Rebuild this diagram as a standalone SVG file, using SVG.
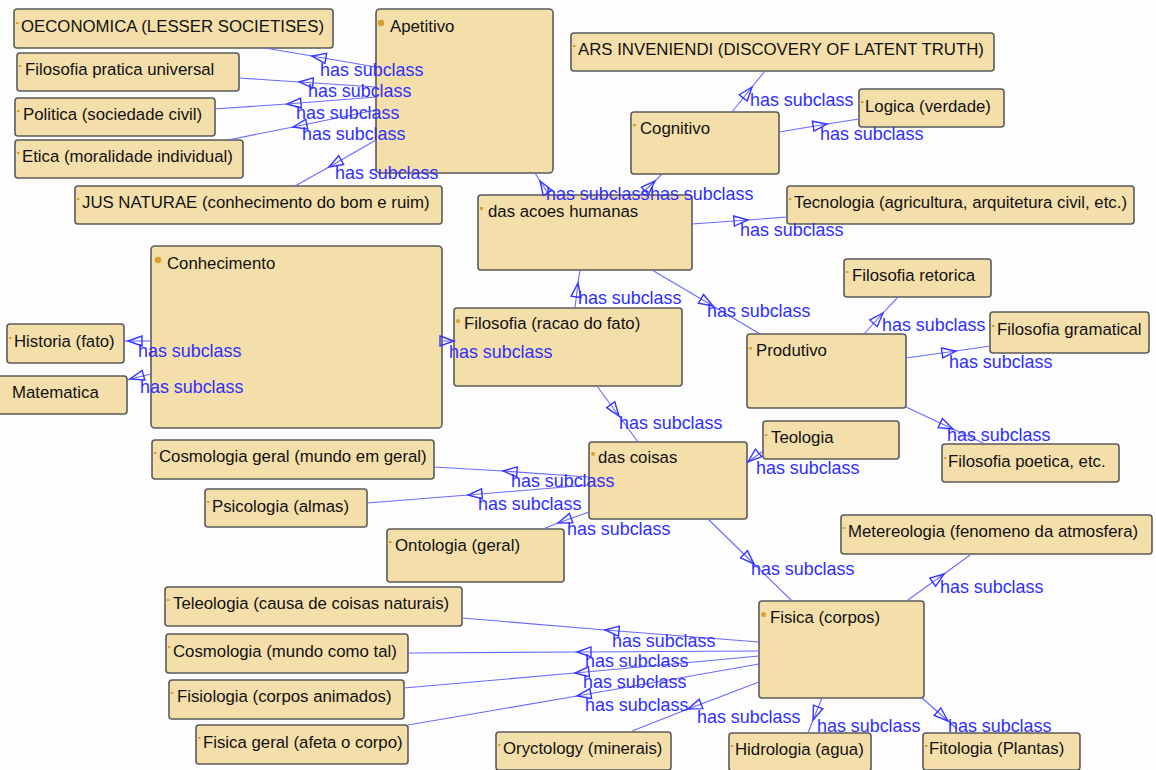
<svg xmlns="http://www.w3.org/2000/svg" width="1156" height="770" viewBox="0 0 1156 770">
<style>
.n rect.b{fill:#f4dfab;stroke:#5a5a5a;stroke-width:1.6}
.n text{font-family:"Liberation Sans",Arial,sans-serif;font-size:16.8px;fill:#111}
.n .m{fill:#d9a030}
.e path{fill:none;stroke:#6a6aff;stroke-width:1.1;marker-mid:url(#tri)}
.e text{font-family:"Liberation Sans",Arial,sans-serif;font-size:17.9px;fill:#2f2fff}
</style>
<defs>
<marker id="tri" viewBox="0 0 16 12" refX="15" refY="6" markerWidth="16" markerHeight="12" markerUnits="userSpaceOnUse" orient="auto" overflow="visible">
<path d="M1,1 L15,6 L1,11 Z" fill="none" stroke="#3535ff" stroke-width="1.4"/>
</marker>
</defs>
<rect width="1156" height="770" fill="#fdfdfd"/>
<g id="nodes">
<g id="n-oeconomica" class="n"><rect class="b" x="14" y="9" width="319" height="39" rx="3"/><rect class="m" x="16" y="22" width="2.5" height="2"/><text x="21" y="32">OECONOMICA (LESSER SOCIETISES)</text></g>
<g id="n-filpratica" class="n"><rect class="b" x="17" y="53" width="222" height="38" rx="3"/><rect class="m" x="19" y="65" width="2.5" height="2"/><text x="25" y="75">Filosofia pratica universal</text></g>
<g id="n-politica" class="n"><rect class="b" x="15" y="98" width="200" height="38" rx="3"/><rect class="m" x="17" y="110" width="2.5" height="2"/><text x="23" y="120">Politica (sociedade civil)</text></g>
<g id="n-etica" class="n"><rect class="b" x="15" y="140" width="228" height="38" rx="3"/><rect class="m" x="17" y="152" width="2.5" height="2"/><text x="22" y="162">Etica (moralidade individual)</text></g>
<g id="n-jus" class="n"><rect class="b" x="75" y="186" width="367" height="38" rx="3"/><rect class="m" x="77" y="198" width="2.5" height="2"/><text x="82" y="208">JUS NATURAE (conhecimento do bom e ruim)</text></g>
<g id="n-apetitivo" class="n"><rect class="b" x="376" y="9" width="177" height="164" rx="4"/><circle class="m" cx="381" cy="23" r="3.3"/><text x="390" y="32">Apetitivo</text></g>
<g id="n-ars" class="n"><rect class="b" x="571" y="33" width="423" height="38" rx="3"/><rect class="m" x="573" y="45" width="2.5" height="2"/><text x="578" y="55">ARS INVENIENDI (DISCOVERY OF LATENT TRUTH)</text></g>
<g id="n-cognitivo" class="n"><rect class="b" x="631" y="112" width="148" height="62" rx="3"/><rect class="m" x="633" y="124" width="3" height="2.5"/><text x="640" y="134">Cognitivo</text></g>
<g id="n-logica" class="n"><rect class="b" x="859" y="89" width="145" height="38" rx="3"/><rect class="m" x="861" y="101" width="2.5" height="2"/><text x="865" y="112">Logica (verdade)</text></g>
<g id="n-dasacoes" class="n"><rect class="b" x="478" y="195" width="214" height="75" rx="3"/><rect class="m" x="480" y="207" width="3" height="3"/><text x="488" y="217">das acoes humanas</text></g>
<g id="n-tecnologia" class="n"><rect class="b" x="787" y="186" width="347" height="38" rx="3"/><rect class="m" x="789" y="198" width="2.5" height="2"/><text x="794" y="208">Tecnologia (agricultura, arquitetura civil, etc.)</text></g>
<g id="n-conhecimento" class="n"><rect class="b" x="151" y="246" width="291" height="182" rx="4"/><circle class="m" cx="158" cy="260" r="3.3"/><text x="167" y="269">Conhecimento</text></g>
<g id="n-historia" class="n"><rect class="b" x="7" y="324" width="117" height="39" rx="3"/><rect class="m" x="9" y="337" width="2.5" height="2"/><text x="14" y="347">Historia (fato)</text></g>
<g id="n-matematica" class="n"><rect class="b" x="-3" y="376" width="130" height="38" rx="3"/><text x="12" y="398">Matematica</text></g>
<g id="n-filracao" class="n"><rect class="b" x="454" y="308" width="228" height="78" rx="3"/><circle class="m" cx="458" cy="321" r="2"/><text x="464" y="329">Filosofia (racao do fato)</text></g>
<g id="n-produtivo" class="n"><rect class="b" x="747" y="334" width="159" height="74" rx="3"/><rect class="m" x="749" y="347" width="3" height="2.5"/><text x="756" y="356">Produtivo</text></g>
<g id="n-retorica" class="n"><rect class="b" x="844" y="259" width="147" height="38" rx="3"/><rect class="m" x="846" y="271" width="2.5" height="2"/><text x="852" y="281">Filosofia retorica</text></g>
<g id="n-gramatical" class="n"><rect class="b" x="990" y="312" width="159" height="41" rx="3"/><rect class="m" x="992" y="325" width="2.5" height="2"/><text x="997" y="335">Filosofia gramatical</text></g>
<g id="n-poetica" class="n"><rect class="b" x="942" y="444" width="177" height="38" rx="3"/><rect class="m" x="944" y="457" width="2.5" height="2"/><text x="948" y="467">Filosofia poetica, etc.</text></g>
<g id="n-teologia" class="n"><rect class="b" x="763" y="421" width="136" height="38" rx="3"/><rect class="m" x="765" y="434" width="2.5" height="2"/><text x="771" y="443">Teologia</text></g>
<g id="n-dascoisas" class="n"><rect class="b" x="589" y="442" width="158" height="77" rx="3"/><circle class="m" cx="593" cy="454" r="2"/><text x="598" y="463">das coisas</text></g>
<g id="n-cosmogeral" class="n"><rect class="b" x="152" y="440" width="282" height="39" rx="3"/><rect class="m" x="154" y="452" width="2.5" height="2"/><text x="159" y="462">Cosmologia geral (mundo em geral)</text></g>
<g id="n-psicologia" class="n"><rect class="b" x="205" y="489" width="162" height="38" rx="3"/><rect class="m" x="207" y="501" width="2.5" height="2"/><text x="212" y="512">Psicologia (almas)</text></g>
<g id="n-ontologia" class="n"><rect class="b" x="387" y="529" width="177" height="53" rx="3"/><rect class="m" x="389" y="541" width="2.5" height="2"/><text x="395" y="551">Ontologia (geral)</text></g>
<g id="n-metereologia" class="n"><rect class="b" x="841" y="515" width="311" height="39" rx="3"/><rect class="m" x="843" y="527" width="2.5" height="2"/><text x="848" y="537">Metereologia (fenomeno da atmosfera)</text></g>
<g id="n-teleologia" class="n"><rect class="b" x="165" y="587" width="297" height="39" rx="3"/><rect class="m" x="167" y="599" width="2.5" height="2"/><text x="173" y="609">Teleologia (causa de coisas naturais)</text></g>
<g id="n-cosmomundo" class="n"><rect class="b" x="166" y="634" width="242" height="39" rx="3"/><rect class="m" x="168" y="646" width="2.5" height="2"/><text x="173" y="657">Cosmologia (mundo como tal)</text></g>
<g id="n-fisiologia" class="n"><rect class="b" x="169" y="680" width="235" height="39" rx="3"/><rect class="m" x="171" y="692" width="2.5" height="2"/><text x="177" y="702">Fisiologia (corpos animados)</text></g>
<g id="n-fisicageral" class="n"><rect class="b" x="196" y="725" width="212" height="39" rx="3"/><rect class="m" x="198" y="737" width="2.5" height="2"/><text x="203" y="748">Fisica geral (afeta o corpo)</text></g>
<g id="n-oryctology" class="n"><rect class="b" x="496" y="732" width="175" height="38" rx="3"/><rect class="m" x="498" y="744" width="2.5" height="2"/><text x="503" y="754">Oryctology (minerais)</text></g>
<g id="n-fisica" class="n"><rect class="b" x="759" y="601" width="165" height="97" rx="3"/><circle class="m" cx="763.5" cy="614.5" r="2.5"/><text x="770" y="623">Fisica (corpos)</text></g>
<g id="n-hidrologia" class="n"><rect class="b" x="729" y="733" width="142" height="38" rx="3"/><rect class="m" x="731" y="745" width="2.5" height="2"/><text x="735" y="755">Hidrologia (agua)</text></g>
<g id="n-fitologia" class="n"><rect class="b" x="923" y="733" width="157" height="37" rx="3"/><rect class="m" x="925" y="745" width="2.5" height="2"/><text x="929" y="754">Fitologia (Plantas)</text></g>
</g>
<g id="connectors" class="e">
<path d="M376,67 L312,56 L265,48"/>
<path d="M376,87 L299,82 L239,78"/>
<path d="M376,97 L287,104 L214,109"/>
<path d="M376,110 L293,127 L228,140"/>
<path d="M376,140 L329,167 L295,186"/>
<path d="M549,195 L540,181 L535,173"/>
<path d="M640,195 L655,181 L662,174"/>
<path d="M732,112 L752,87 L765,71"/>
<path d="M779,132 L827,124 L859,119"/>
<path d="M692,224 L748,220 L787,217"/>
<path d="M652,270 L713,306 L760,334"/>
<path d="M575,308 L578,283 L580,270"/>
<path d="M151,341 L128,341 L124,341"/>
<path d="M151,374 L130,379 L127,380"/>
<path d="M442,341 L454,341 L455,341"/>
<path d="M597,386 L619,416 L638,442"/>
<path d="M864,334 L883,313 L898,297"/>
<path d="M906,358 L956,351 L990,346"/>
<path d="M906,407 L953,429 L985,444"/>
<path d="M763,451 L748,462 L747,463"/>
<path d="M588,477 L503,471 L434,467"/>
<path d="M589,485 L468,495 L367,503"/>
<path d="M589,512 L558,523 L543,529"/>
<path d="M708,519 L754,564 L792,601"/>
<path d="M908,600 L944,574 L970,555"/>
<path d="M759,642 L605,630 L462,618"/>
<path d="M759,651 L577,652 L408,653"/>
<path d="M759,656 L575,673 L404,688"/>
<path d="M759,664 L577,696 L408,725"/>
<path d="M759,682 L688,709 L632,731"/>
<path d="M822,698 L813,720 L808,733"/>
<path d="M921,697 L948,721 L957,729"/>
<text x="320" y="76">has subclass</text>
<text x="308" y="97">has subclass</text>
<text x="296" y="119">has subclass</text>
<text x="302" y="140">has subclass</text>
<text x="335" y="179">has subclass</text>
<text x="546" y="200">has subclass</text>
<text x="650" y="200">has subclass</text>
<text x="750" y="106">has subclass</text>
<text x="820" y="140">has subclass</text>
<text x="740" y="236">has subclass</text>
<text x="707" y="317">has subclass</text>
<text x="578" y="304">has subclass</text>
<text x="138" y="357">has subclass</text>
<text x="140" y="393">has subclass</text>
<text x="449" y="358">has subclass</text>
<text x="619" y="429">has subclass</text>
<text x="882" y="331">has subclass</text>
<text x="949" y="368">has subclass</text>
<text x="947" y="441">has subclass</text>
<text x="756" y="474">has subclass</text>
<text x="511" y="487">has subclass</text>
<text x="478" y="510">has subclass</text>
<text x="567" y="535">has subclass</text>
<text x="751" y="575">has subclass</text>
<text x="940" y="593">has subclass</text>
<text x="612" y="647">has subclass</text>
<text x="585" y="667">has subclass</text>
<text x="583" y="688">has subclass</text>
<text x="585" y="711">has subclass</text>
<text x="697" y="723">has subclass</text>
<text x="817" y="732">has subclass</text>
<text x="948" y="732">has subclass</text>
</g>
</svg>
